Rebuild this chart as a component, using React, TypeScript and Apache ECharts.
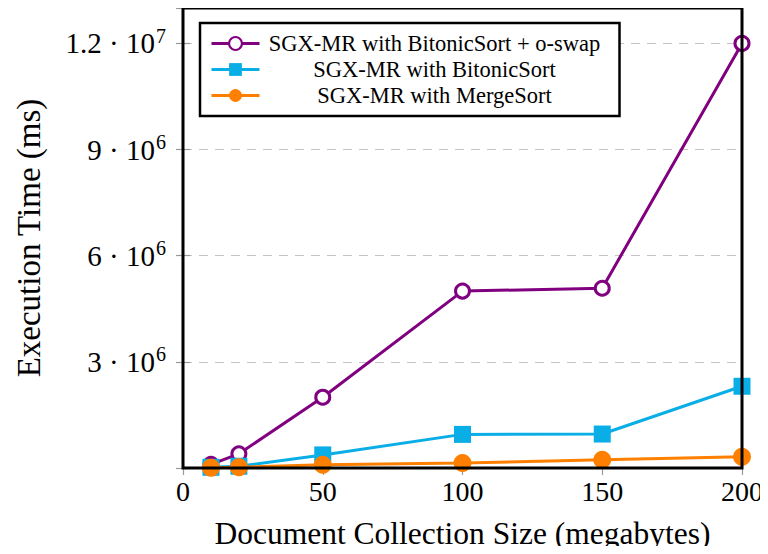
import React, { useEffect, useRef } from "react";
import * as echarts from "echarts";

const sizes = [10, 20, 50, 100, 150, 200];
const bitonicSwap = [0.1e6, 0.4e6, 2.0e6, 5.0e6, 5.08e6, 12.0e6];
const bitonic = [0.02e6, 0.05e6, 0.37e6, 0.95e6, 0.96e6, 2.31e6];
const mergeSort = [0.01e6, 0.02e6, 0.09e6, 0.14e6, 0.23e6, 0.32e6];
const seriesNames = [
  "SGX-MR with BitonicSort + o-swap",
  "SGX-MR with BitonicSort",
  "SGX-MR with MergeSort",
];
const yTickLabels: Record<number, string> = {
  3000000: "{b|3 · 10}{s|6}",
  6000000: "{b|6 · 10}{s|6}",
  9000000: "{b|9 · 10}{s|6}",
  12000000: "{b|1.2 · 10}{s|7}",
};

const FONT = "Liberation Serif";
const TICK = "#9a9a9a";

export default function App() {
  const ref = useRef<HTMLDivElement>(null);
  useEffect(() => {
    if (!ref.current) return;
    const chart = echarts.init(ref.current, null, { renderer: "svg" });
    const pts = (vals: number[]) => sizes.map((x, i) => [x, vals[i]]);
    const tickCommon = {
      show: true,
      inside: true,
      length: 7,
      lineStyle: { color: TICK, width: 1.2 },
    };
    chart.setOption({
      animation: false,
      backgroundColor: "#ffffff",
      grid: {
        left: 183,
        right: 26,
        top: 8,
        bottom: 83,
        show: true,
        borderColor: "#000",
        borderWidth: 3,
        backgroundColor: "transparent",
        z: 10,
      },
      legend: {
        left: 200,
        top: 23,
        orient: "vertical",
        data: seriesNames,
        itemWidth: 48,
        itemHeight: 16,
        itemGap: 3,
        padding: [9, 15, 9, 10],
        backgroundColor: "#fff",
        borderColor: "#000",
        borderWidth: 2.5,
        lineStyle: { width: 3 },
        formatter: "{a|{name}}",
        textStyle: {
          fontFamily: FONT,
          fontSize: 22.5,
          color: "#000",
          rich: {
            a: {
              fontFamily: FONT,
              fontSize: 22.5,
              width: 340,
              align: "center",
              lineHeight: 23,
            },
          },
        },
      },
      xAxis: [
        {
          type: "value",
          min: 0,
          max: 200,
          interval: 50,
          name: "Document Collection Size (megabytes)",
          nameLocation: "middle",
          nameGap: 49,
          nameTextStyle: { fontFamily: FONT, fontSize: 31.5, color: "#000" },
          axisLine: { show: false },
          axisTick: tickCommon,
          splitLine: { show: false },
          axisLabel: {
            fontFamily: FONT,
            fontSize: 28,
            color: "#000",
            margin: 9,
          },
        },
        {
          type: "value",
          position: "top",
          min: 0,
          max: 200,
          interval: 50,
          axisLine: { show: false },
          axisTick: tickCommon,
          splitLine: { show: false },
          axisLabel: { show: false },
        },
      ],
      yAxis: [
        {
          type: "value",
          min: 0,
          max: 13000000,
          interval: 3000000,
          name: "Execution Time (ms)",
          nameLocation: "middle",
          nameGap: 138,
          nameTextStyle: { fontFamily: FONT, fontSize: 33, color: "#000" },
          axisLine: { show: false },
          axisTick: tickCommon,
          splitLine: {
            show: true,
            lineStyle: { color: "#c4c4c4", type: [9, 7], width: 1.2 },
          },
          axisLabel: {
            margin: 17,
            formatter: (v: number) => yTickLabels[v] || "",
            rich: {
              b: { fontFamily: FONT, fontSize: 29, color: "#000", lineHeight: 32 },
              s: {
                fontFamily: FONT,
                fontSize: 20,
                color: "#000",
                lineHeight: 32,
                padding: [0, 0, 15, 1],
              },
            },
          },
        },
        {
          type: "value",
          position: "right",
          min: 0,
          max: 13000000,
          interval: 3000000,
          axisLine: { show: false },
          axisTick: tickCommon,
          splitLine: { show: false },
          axisLabel: { show: false },
        },
      ],
      series: [
        {
          name: seriesNames[0],
          type: "line",
          data: pts(bitonicSwap),
          symbol: "circle",
          symbolSize: 14,
          color: "#800080",
          lineStyle: { width: 3, color: "#800080" },
          itemStyle: { color: "#fff", borderColor: "#800080", borderWidth: 3 },
        },
        {
          name: seriesNames[1],
          type: "line",
          data: pts(bitonic),
          symbol: "rect",
          symbolSize: 17,
          color: "#0AAEE6",
          lineStyle: { width: 3, color: "#0AAEE6" },
          itemStyle: { color: "#0AAEE6" },
        },
        {
          name: seriesNames[2],
          type: "line",
          data: pts(mergeSort),
          symbol: "circle",
          symbolSize: 18,
          color: "#FF8000",
          lineStyle: { width: 3, color: "#FF8000" },
          itemStyle: { color: "#FF8000" },
        },
      ],
    });
    return () => chart.dispose();
  }, []);
  return <div ref={ref} style={{ width: 768, height: 554, margin: -8 }} />;
}
